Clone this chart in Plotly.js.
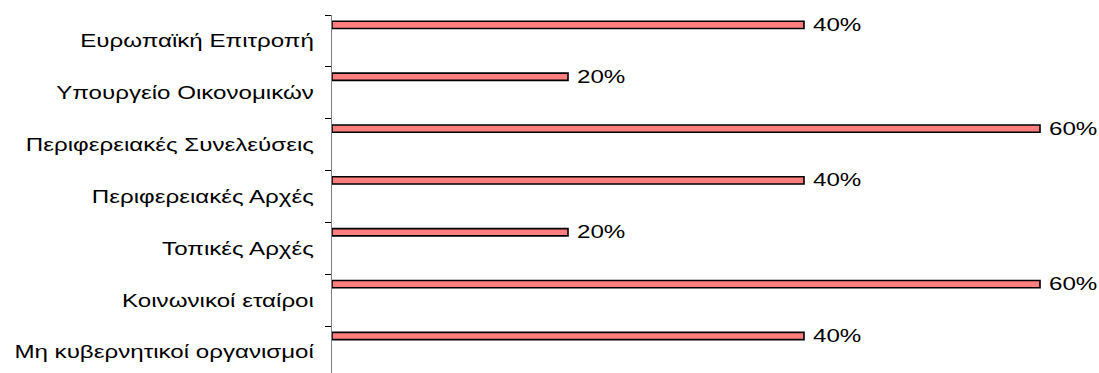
<!DOCTYPE html>
<html>
<head>
<meta charset="utf-8">
<script src="https://cdn.plot.ly/plotly-3.0.1.min.js"></script>
<style>
html,body{margin:0;padding:0;background:#fff;}
#chart{width:1099px;height:373px;}
</style>
</head>
<body>
<div id="chart"></div>
<script>
const categories = [
  "Ευρωπαϊκή Επιτροπή",
  "Υπουργείο Οικονομικών",
  "Περιφερειακές Συνελεύσεις",
  "Περιφερειακές Αρχές",
  "Τοπικές Αρχές",
  "Κοινωνικοί εταίροι",
  "Μη κυβερνητικοί οργανισμοί"
];
const values = [0.40, 0.20, 0.60, 0.40, 0.20, 0.60, 0.40];

const STRETCH = 1.34;

const trace = {
  type: 'bar',
  orientation: 'h',
  y: categories,
  x: values,
  width: 0.14,
  offset: -0.38,
  marker: {color: '#FF7F7F', line: {color: '#000000', width: 1.6}},
  texttemplate: '%{x:.0%}',
  textposition: 'outside',
  constraintext: 'none',
  cliponaxis: false,
  textfont: {family: 'Liberation Sans, Arial, sans-serif', size: 18, color: '#000'},
  hoverinfo: 'none'
};

const layout = {
  width: 1099, height: 373,
  margin: {l: 332, r: 0, t: 15, b: 0, pad: 0},
  paper_bgcolor: '#fff', plot_bgcolor: '#fff',
  showlegend: false,
  bargap: 0,
  xaxis: {range: [0, 0.65], visible: false, fixedrange: true},
  yaxis: {
    type: 'category',
    range: [6.404, -0.5],
    autorange: false,
    tickson: 'boundaries',
    ticks: 'outside', ticklen: 6, tickwidth: 1, tickcolor: '#000',
    showline: true, linecolor: '#808080', linewidth: 1.5,
    showgrid: false, zeroline: false,
    ticklabelstandoff: 13,
    tickfont: {family: 'Liberation Sans, Arial, sans-serif', size: 18, color: '#000'}
  }
};

Plotly.newPlot('chart', [trace], layout, {staticPlot: true, displayModeBar: false}).then(function (gd) {
  // horizontally stretch the text like the original rendering
  gd.querySelectorAll('.ytick text').forEach(function (t) {
    const w = t.getComputedTextLength();
    t.setAttribute('textLength', (w * STRETCH).toFixed(1));
    t.setAttribute('lengthAdjust', 'spacingAndGlyphs');
  });
  gd.querySelectorAll('.bartext text, text.bartext').forEach(function (t) {
    const bb = t.getBBox();
    const w = t.getComputedTextLength();
    t.setAttribute('text-anchor', 'start');
    t.setAttribute('x', (bb.x + 6).toFixed(1));
    t.setAttribute('textLength', (w * STRETCH).toFixed(1));
    t.setAttribute('lengthAdjust', 'spacingAndGlyphs');
  });
});
</script>
</body>
</html>
